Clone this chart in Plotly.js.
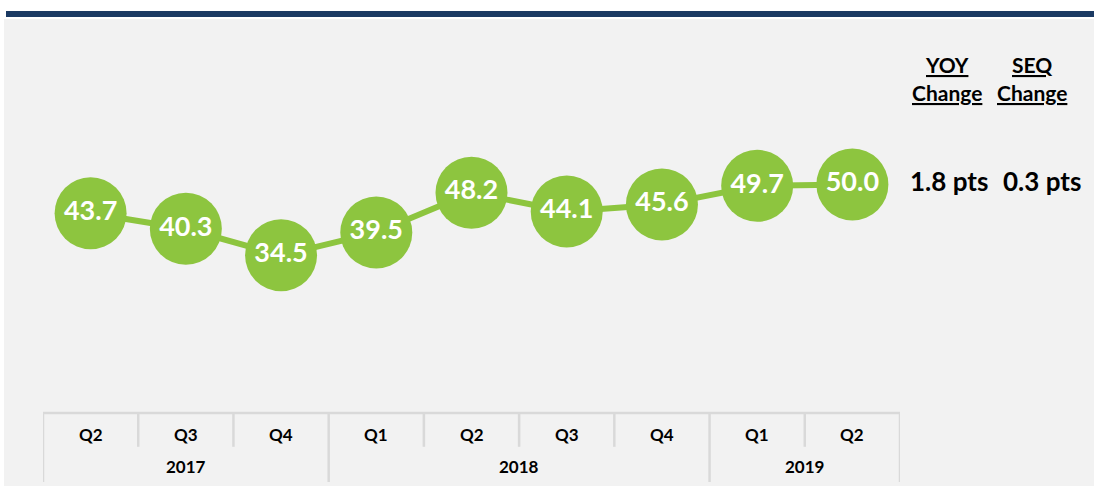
<!DOCTYPE html>
<html>
<head>
<meta charset="utf-8">
<script src="https://cdn.plot.ly/plotly-3.0.1.min.js"></script>
<style>html,body{margin:0;padding:0;background:#fff;}#chart{width:1094px;height:486px;}</style>
</head>
<body>
<div id="chart"></div>
<script>
const quarters = ["Q2","Q3","Q4","Q1","Q2","Q3","Q4","Q1","Q2"];
const years = ["2017","2018","2019"];
const yearSpans = [[0,2],[3,6],[7,8]];
const values = [43.7, 40.3, 34.5, 39.5, 48.2, 44.1, 45.6, 49.7, 50.0];
const yoyChange = "1.8 pts";
const seqChange = "0.3 pts";

const W = 1094, H = 486;
const px = x => x / W;
const py = y => 1 - y / H;
const green = "#8DC53F";
const grid = "#d9d9d9";
const FONT = "Lato, 'Open Sans', sans-serif";

const xs = values.map((v,i)=>i);

const shapes = [
  {type:"rect", xref:"paper", yref:"paper", x0:px(4), x1:px(1094), y0:py(486), y1:py(19), fillcolor:"#f2f2f2", line:{width:0}, layer:"below"},
  {type:"rect", xref:"paper", yref:"paper", x0:px(6), x1:px(1094), y0:py(17), y1:py(11), fillcolor:"#1b3a63", line:{width:0}, layer:"below"},
  {type:"line", xref:"x", yref:"y", x0:-0.5, x1:quarters.length-0.5, y0:0, y1:0, line:{color:grid, width:2.5}, layer:"below"}
];
const yBottom = -15.1, yMid = -7.4;
const boundaries = new Set([-0.5]);
yearSpans.forEach(s => boundaries.add(s[1]+0.5));
for (let i = 0; i <= quarters.length; i++) {
  const xb = i - 0.5;
  const full = boundaries.has(xb);
  shapes.push({type:"line", xref:"x", yref:"y", x0:xb, x1:xb, y0:0, y1: full ? yBottom : yMid, line:{color:grid, width:2.5}, layer:"below"});
}

const annotations = [];
quarters.forEach((q,i)=>annotations.push({x:i, y:-4.8, xref:"x", yref:"y", xanchor:"center", yanchor:"middle", text:"<b>"+q+"</b>", showarrow:false, font:{family:FONT, size:17, color:"#000"}}));
years.forEach((yv,k)=>annotations.push({x:(yearSpans[k][0]+yearSpans[k][1])/2, y:-11.6, xref:"x", yref:"y", xanchor:"center", yanchor:"middle", text:"<b>"+yv+"</b>", showarrow:false, font:{family:FONT, size:17, color:"#000"}}));

const hdr = (x, y, t, size) => annotations.push({x:px(x), y:py(y), xref:"paper", yref:"paper", xanchor:"center", yanchor:"middle", text:t, showarrow:false, font:{family:FONT, size:size, color:"#000"}});
hdr(947, 64, "<b><u>YOY</u></b>", 21);
hdr(947, 93, "<b><u>Change</u></b>", 21);
hdr(1032, 64, "<b><u>SEQ</u></b>", 21);
hdr(1032, 93, "<b><u>Change</u></b>", 21);
hdr(949, 181, "<b>"+yoyChange+"</b>", 26);
hdr(1042, 181, "<b>"+seqChange+"</b>", 26);

const trace = {
  x: xs, y: values, type:"scatter", mode:"lines+markers+text",
  line:{color:green, width:6},
  marker:{size:72, color:green, line:{width:0}},
  text: values.map(v=>"<b>"+v.toFixed(1)+"</b>"),
  textposition:"middle center",
  textfont:{family:FONT, size:27, color:"#fff"},
  hoverinfo:"skip", cliponaxis:false
};

const layout = {
  width:W, height:H,
  margin:{l:0, r:0, t:0, b:0},
  paper_bgcolor:"#fff", plot_bgcolor:"rgba(0,0,0,0)",
  showlegend:false,
  xaxis:{domain:[px(43), px(900)], range:[-0.5, quarters.length-0.5], visible:false, fixedrange:true},
  yaxis:{domain:[py(482), py(19)], range:[yBottom, 86.2], visible:false, fixedrange:true},
  shapes: shapes,
  annotations: annotations
};

Plotly.newPlot("chart", [trace], layout, {displayModeBar:false, staticPlot:true});
</script>
</body>
</html>
